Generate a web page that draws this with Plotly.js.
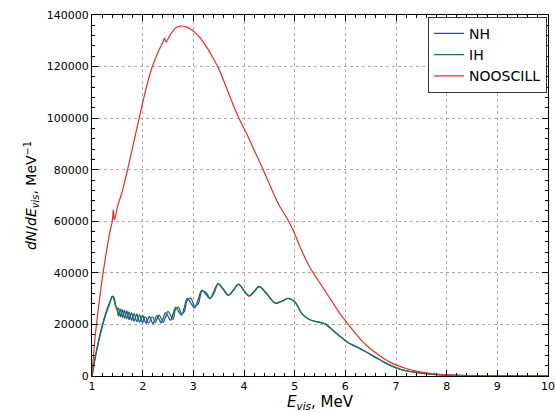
<!DOCTYPE html>
<html>
<head>
<meta charset="utf-8">
<script src="https://cdn.plot.ly/plotly-3.0.1.min.js"></script>
<style>html,body{margin:0;padding:0;background:#fff;}#chart{width:555px;height:412px;}</style>
</head>
<body>
<div id="chart"></div>
<script>
// Energy grid for the oscillating spectra (MeV)
const energyOsc = [1.0,1.05,1.1,1.15,1.2,1.25,1.3,1.35,1.4,1.43,1.46,1.49,
  1.52,1.54,1.56,1.58,1.60,1.62,1.64,1.663,1.685,1.708,1.73,1.755,1.78,1.805,1.83,1.858,1.885,1.913,1.94,1.97,
  2.0,2.033,2.065,2.098,2.13,2.168,2.205,2.243,2.28,2.323,2.365,2.408,2.45,2.50,2.55,2.60,2.65,2.708,2.765,2.823,
  2.88,2.953,3.025,3.098,3.17,3.25,3.33,3.41,3.49,3.59,3.69,3.79,3.89,3.995,4.10,4.20,4.30,4.45,4.62,4.75,4.87,
  5.0,5.15,5.3,5.45,5.6,5.75,5.9,6.05,6.2,6.35,6.5,6.7,6.9,7.1,7.3,7.5,7.75,8.0,8.5,9.0,9.5,10.0];

const nhValues = [0,6000,11000,15500,19500,23000,26000,28600,30800,30600,28000,25800,
  26300,24650,23000,24400,25700,24100,22500,23800,25200,23550,21900,23250,24600,22950,21300,22650,24050,22400,20800,22150,
  23500,21900,20400,21750,23100,21700,20250,21800,23400,22100,20650,22500,24600,23200,21650,24000,26600,25100,23500,26700,
  30100,28200,26400,29900,33300,31600,30000,33000,35800,33500,31300,33400,35600,33200,31000,32800,34700,31800,28300,29000,30100,
  28800,24000,21800,21000,20200,17800,15300,13000,11500,10000,8300,6100,4000,2500,1700,1100,600,300,100,30,5,0];

const ihValues = [0,5500,10500,15000,19000,22500,25500,28000,31000,30000,27500,26500,
  23300,24650,26000,24400,22700,24100,25500,23800,22200,23550,24900,23250,21600,22950,24300,22650,21050,22400,23800,22150,
  20500,22820,22770,20830,20780,22650,22750,20800,21900,23650,22300,20800,22800,25050,23600,22000,25980,26650,24170,25000,
  29340,30040,27160,28060,33000,32400,30200,32200,35700,33800,31400,33100,35550,33300,31100,32700,34650,31900,28300,29000,30100,
  28800,24000,21800,21000,20200,17800,15300,13000,11500,10000,8300,6100,4000,2500,1700,1100,600,300,100,30,5,0];

// Unoscillated spectrum
const energyNoOsc = [1.0,1.05,1.1,1.15,1.2,1.25,1.3,1.35,1.4,1.42,1.44,1.47,1.5,1.6,1.7,1.8,1.9,2.0,2.1,2.2,2.3,2.4,2.43,2.46,
  2.55,2.65,2.75,2.85,2.95,3.05,3.15,3.25,3.35,3.5,3.6,3.7,3.8,3.9,4.0,4.1,4.2,4.3,4.4,4.5,4.6,4.7,4.8,4.9,
  5.0,5.1,5.2,5.3,5.4,5.5,5.6,5.7,5.8,5.9,6.0,6.1,6.2,6.3,6.4,6.5,6.6,6.7,6.8,6.9,7.0,7.2,7.4,7.6,7.8,8.0,8.5,9.0,9.5,10.0];
const noOscValues = [0,13000,22000,30000,37500,44000,50000,55500,60000,64500,60500,62500,65500,71800,79800,88500,97300,106000,114000,120500,125500,129500,131000,129500,
  132500,135000,135700,135500,134500,132900,130700,127900,124700,119200,114500,109500,104500,100000,96000,92000,87500,83500,79000,74500,70000,66000,62800,59300,
  55200,50300,46000,42200,39000,36000,33000,30000,27000,24000,21500,19000,16500,14200,12200,10500,9000,7600,6300,5200,4300,2900,1900,1200,700,400,120,40,10,0];

const seriesNames = ["NH","IH","NOOSCILL"];
const xTicks = [1,2,3,4,5,6,7,8,9,10];
const yTicks = [0,20000,40000,60000,80000,100000,120000,140000];

const traces = [
  {x: energyOsc, y: nhValues, name: seriesNames[0], type: "scatter", mode: "lines",
   line: {color: "#3a3ae0", width: 1.3, shape: "spline", smoothing: 1}},
  {x: energyOsc, y: ihValues, name: seriesNames[1], type: "scatter", mode: "lines",
   line: {color: "#1a7a3a", width: 1.3, shape: "spline", smoothing: 1}},
  {x: energyNoOsc, y: noOscValues, name: seriesNames[2], type: "scatter", mode: "lines",
   line: {color: "#ee2a2a", width: 1.2, shape: "spline", smoothing: 0.5}}
];

const font = {family: "DejaVu Sans", color: "#000"};
const layout = {
  width: 555, height: 412,
  margin: {l: 92, r: 7, t: 15, b: 36},
  paper_bgcolor: "#fff", plot_bgcolor: "#fff",
  showlegend: true,
  legend: {x: 0.998, y: 0.995, xanchor: "right", yanchor: "top",
    bgcolor: "#fff", bordercolor: "#333", borderwidth: 1,
    font: {family: "DejaVu Sans", size: 14, color: "#000"}, tracegroupgap: 0},
  xaxis: {
    range: [1, 10], tickvals: xTicks, ticktext: xTicks.map(String),
    ticks: "inside", ticklen: 6, tickcolor: "#000", tickwidth: 1,
    minor: {ticks: "inside", ticklen: 3, dtick: 0.2, tickcolor: "#000", showgrid: false},
    showline: true, linecolor: "#000", linewidth: 1, mirror: "allticks",
    showgrid: true, gridcolor: "#aaa", griddash: "dot", gridwidth: 1,
    zeroline: false,
    tickfont: {family: "DejaVu Sans", size: 11, color: "#000"},
    title: {text: "<i>E<sub>vis</sub></i>, MeV", font: {family: "DejaVu Sans", size: 15, color: "#000"}, standoff: 6}
  },
  yaxis: {
    range: [0, 140000], tickvals: yTicks, ticktext: yTicks.map(String),
    ticks: "inside", ticklen: 6, tickcolor: "#000", tickwidth: 1,
    minor: {ticks: "inside", ticklen: 3, dtick: 4000, tickcolor: "#000", showgrid: false},
    showline: true, linecolor: "#000", linewidth: 1, mirror: "allticks",
    showgrid: true, gridcolor: "#aaa", griddash: "dot", gridwidth: 1,
    zeroline: false,
    tickfont: {family: "DejaVu Sans", size: 11, color: "#000"},
    title: {text: "<i>dN</i>/<i>dE<sub>vis</sub></i>, MeV<sup>−1</sup>", font: {family: "DejaVu Sans", size: 14, color: "#000"}, standoff: 6}
  },
  font: font
};

Plotly.newPlot("chart", traces, layout, {displayModeBar: false, staticPlot: true});
</script>
</body>
</html>
